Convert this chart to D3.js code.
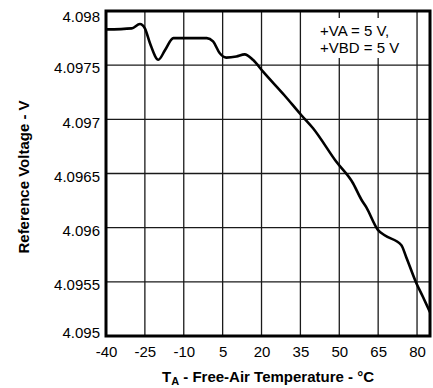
<!DOCTYPE html>
<html>
<head>
<meta charset="utf-8">
<script src="https://cdn.jsdelivr.net/npm/d3@7/dist/d3.min.js"></script>
<style>
  html, body { margin: 0; padding: 0; background: #fff; }
  svg { display: block; font-family: "Liberation Sans", Arial, sans-serif; }
</style>
</head>
<body>
<svg id="chart" width="433" height="388"></svg>
<script>
// Reference voltage vs. free-air temperature
const temperature = [-40, -30.1, -26.9, -25, -23, -19.8, -17.2, -14, -13, -1.1, 1.3, 3.9, 6.4, 10.3, 13.5, 16.7, 20.6, 28.9, 35.3, 39.8, 48.8, 55.3, 58.5, 60.4, 64.9, 67.5, 73.9, 75.8, 79.7, 82.3, 85];
const voltage = [4.09783, 4.09784, 4.09788, 4.09784, 4.09770, 4.09755, 4.09764, 4.09775, 4.09775, 4.09775, 4.09772, 4.09761, 4.09757, 4.09758, 4.09760, 4.09755, 4.09744, 4.09722, 4.09704, 4.09692, 4.09661, 4.09641, 4.09626, 4.09619, 4.09598, 4.09593, 4.09584, 4.09573, 4.09549, 4.09536, 4.09522];

const xTicks = [-40, -25, -10, 5, 20, 35, 50, 65, 80];
const yTicks = [4.095, 4.0955, 4.096, 4.0965, 4.097, 4.0975, 4.098];
const conditionLines = ["+VA = 5 V,", "+VBD = 5 V"];

const svg = d3.select("#chart");
const plot = { left: 106, right: 430, top: 11, bottom: 336 };

const x = d3.scaleLinear().domain([-40, 85]).range([plot.left, plot.right]);
const y = d3.scaleLinear().domain([4.095, 4.098]).range([plot.bottom, plot.top]);

// grid
const grid = svg.append("g").attr("stroke", "#1a1a1a").attr("stroke-width", 1.3);
grid.selectAll("line.vx").data(xTicks.slice(1)).join("line")
  .attr("x1", d => x(d)).attr("x2", d => x(d))
  .attr("y1", plot.top).attr("y2", plot.bottom);
grid.selectAll("line.hy").data(yTicks.slice(1)).join("line")
  .attr("x1", plot.left).attr("x2", plot.right)
  .attr("y1", d => y(d)).attr("y2", d => y(d));

// condition note with a white backing
const note = svg.append("g");
note.append("rect").attr("x", 316).attr("y", 18).attr("width", 90).attr("height", 40).attr("fill", "#fff");
note.selectAll("text").data(conditionLines).join("text")
  .attr("x", 320).attr("y", (d, i) => 36 + i * 17)
  .attr("font-size", 15).attr("fill", "#000")
  .text(d => d);

// curve
const pts = temperature.map((t, i) => [t, voltage[i]]);
svg.append("path")
  .datum(pts)
  .attr("fill", "none")
  .attr("stroke", "#000")
  .attr("stroke-width", 2.6)
  .attr("stroke-linejoin", "round")
  .attr("d", d3.line().x(d => x(d[0])).y(d => y(d[1])).curve(d3.curveMonotoneX));

// frame
svg.append("rect")
  .attr("x", plot.left).attr("y", plot.top)
  .attr("width", plot.right - plot.left).attr("height", plot.bottom - plot.top)
  .attr("fill", "none").attr("stroke", "#000").attr("stroke-width", 3);

// axes (labels only, frame and grid drawn separately)
const xAxis = svg.append("g").attr("transform", `translate(0,${plot.bottom})`)
  .call(d3.axisBottom(x).tickValues(xTicks).tickSize(0).tickPadding(10).tickFormat(d => String(d)));
xAxis.select(".domain").remove();
xAxis.selectAll("text").attr("font-size", 15).attr("font-family", "Liberation Sans, Arial, sans-serif").attr("fill", "#000");

const yAxis = svg.append("g").attr("transform", `translate(${plot.left},0)`)
  .call(d3.axisLeft(y).tickValues(yTicks).tickSize(0).tickPadding(6).tickFormat(d => String(+d.toFixed(4))));
yAxis.select(".domain").remove();
yAxis.selectAll(".tick text")
  .attr("font-size", 15).attr("font-family", "Liberation Sans, Arial, sans-serif").attr("fill", "#000")
  .attr("dy", d => d === 4.098 ? "0.70em" : d === 4.095 ? "0.12em" : "0.52em");

// axis titles
const xt = svg.append("text")
  .attr("x", (plot.left + plot.right) / 2).attr("y", 382)
  .attr("text-anchor", "middle").attr("font-size", 15).attr("font-weight", "bold");
xt.append("tspan").text("T");
xt.append("tspan").attr("font-size", 11).attr("dy", 3).text("A");
xt.append("tspan").attr("dy", -3).text(" - Free-Air Temperature - °C");

svg.append("text")
  .attr("transform", "translate(29,177) rotate(-90)")
  .attr("text-anchor", "middle").attr("font-size", 15).attr("font-weight", "bold")
  .text("Reference Voltage - V");
</script>
</body>
</html>
